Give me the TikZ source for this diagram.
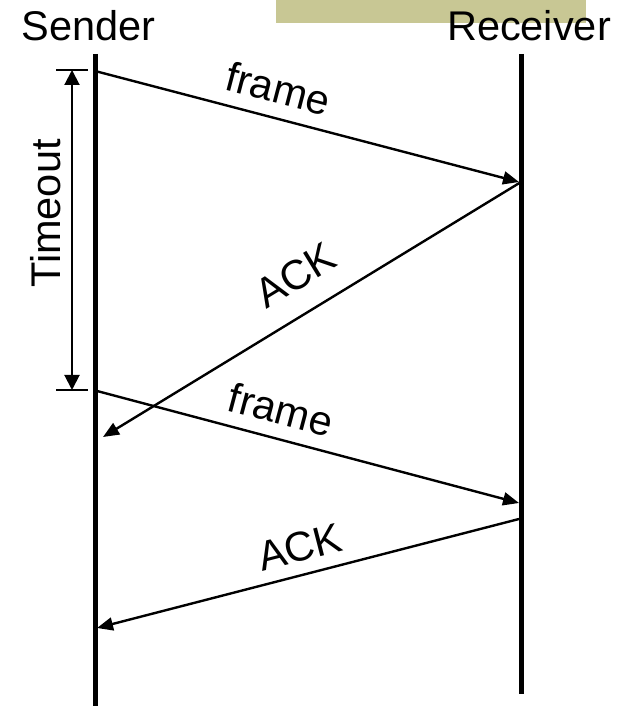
\documentclass[tikz,border=0pt]{standalone}
\usepackage{fontspec}
\setmainfont{Liberation Sans}
\usetikzlibrary{arrows.meta}
\definecolor{khakibar}{RGB}{200,199,148}
\begin{document}
\begin{tikzpicture}[x=1pt,y=1pt,
  lbl/.style={font=\fontsize{41.5}{50}\selectfont, inner sep=0pt},
  life/.style={line width=5pt},
  msg/.style={line width=2.4pt, -{Triangle[length=16pt,width=13pt]}},
  msgback/.style={line width=2.4pt, {Triangle[length=16pt,width=13pt]}-},
  tickline/.style={line width=2pt},
  span/.style={line width=2pt, {Triangle[length=15pt,width=15pt]}-{Triangle[length=15pt,width=15pt]}}]
\useasboundingbox (0,0) rectangle (622,709);
\fill[khakibar] (276,686) rectangle (586,709);
\node[lbl, anchor=base] (sender) at (88.5,668.3) {Sender};
\node[lbl, anchor=base] (receiver) at (529,668.3) {Receiver};
% lifelines
\coordinate (stop) at (95,655);
\coordinate (sbot) at (95,3);
\coordinate (rtop) at (521.5,655);
\coordinate (rbot) at (521.5,15);
\draw[life] (stop) -- (sbot);
\draw[life] (rtop) -- (rbot);
% message end points
\coordinate (s1) at (95,638);
\coordinate (r1) at (519,527);
\coordinate (r1b) at (521,527);
\coordinate (s2) at (103,272);
\coordinate (s3) at (97,318);
\coordinate (r2) at (519,206);
\coordinate (r3) at (519,190);
\coordinate (s4) at (97,81);
% messages
\draw[msg] (s1) -- node[lbl, sloped, above=13pt, pos=0.415] (f1) {frame} (r1);
\draw[msgback] (s2) -- node[lbl, sloped, above=22pt, pos=0.508] (a1) {ACK} (r1b);
\draw[msg] (s3) -- node[lbl, sloped, above=13pt, pos=0.418] (f2) {frame} (r2);
\draw[msgback] (s4) -- node[lbl, sloped, above=11.6pt, pos=0.497] (a2) {ACK} (r3);
% timeout
\coordinate (tA) at (56,639);
\coordinate (tB) at (88,639);
\coordinate (tC) at (56,319);
\coordinate (tD) at (88,319);
\draw[tickline] (tA) -- (tB);
\draw[tickline] (tC) -- (tD);
\coordinate (ttop) at (72,639);
\coordinate (tbot) at (72,319);
\draw[span] (ttop) -- (tbot);
\node[lbl, rotate=90, anchor=base] (timeout) at (60,495.5) {Timeout};
\end{tikzpicture}
\end{document}
